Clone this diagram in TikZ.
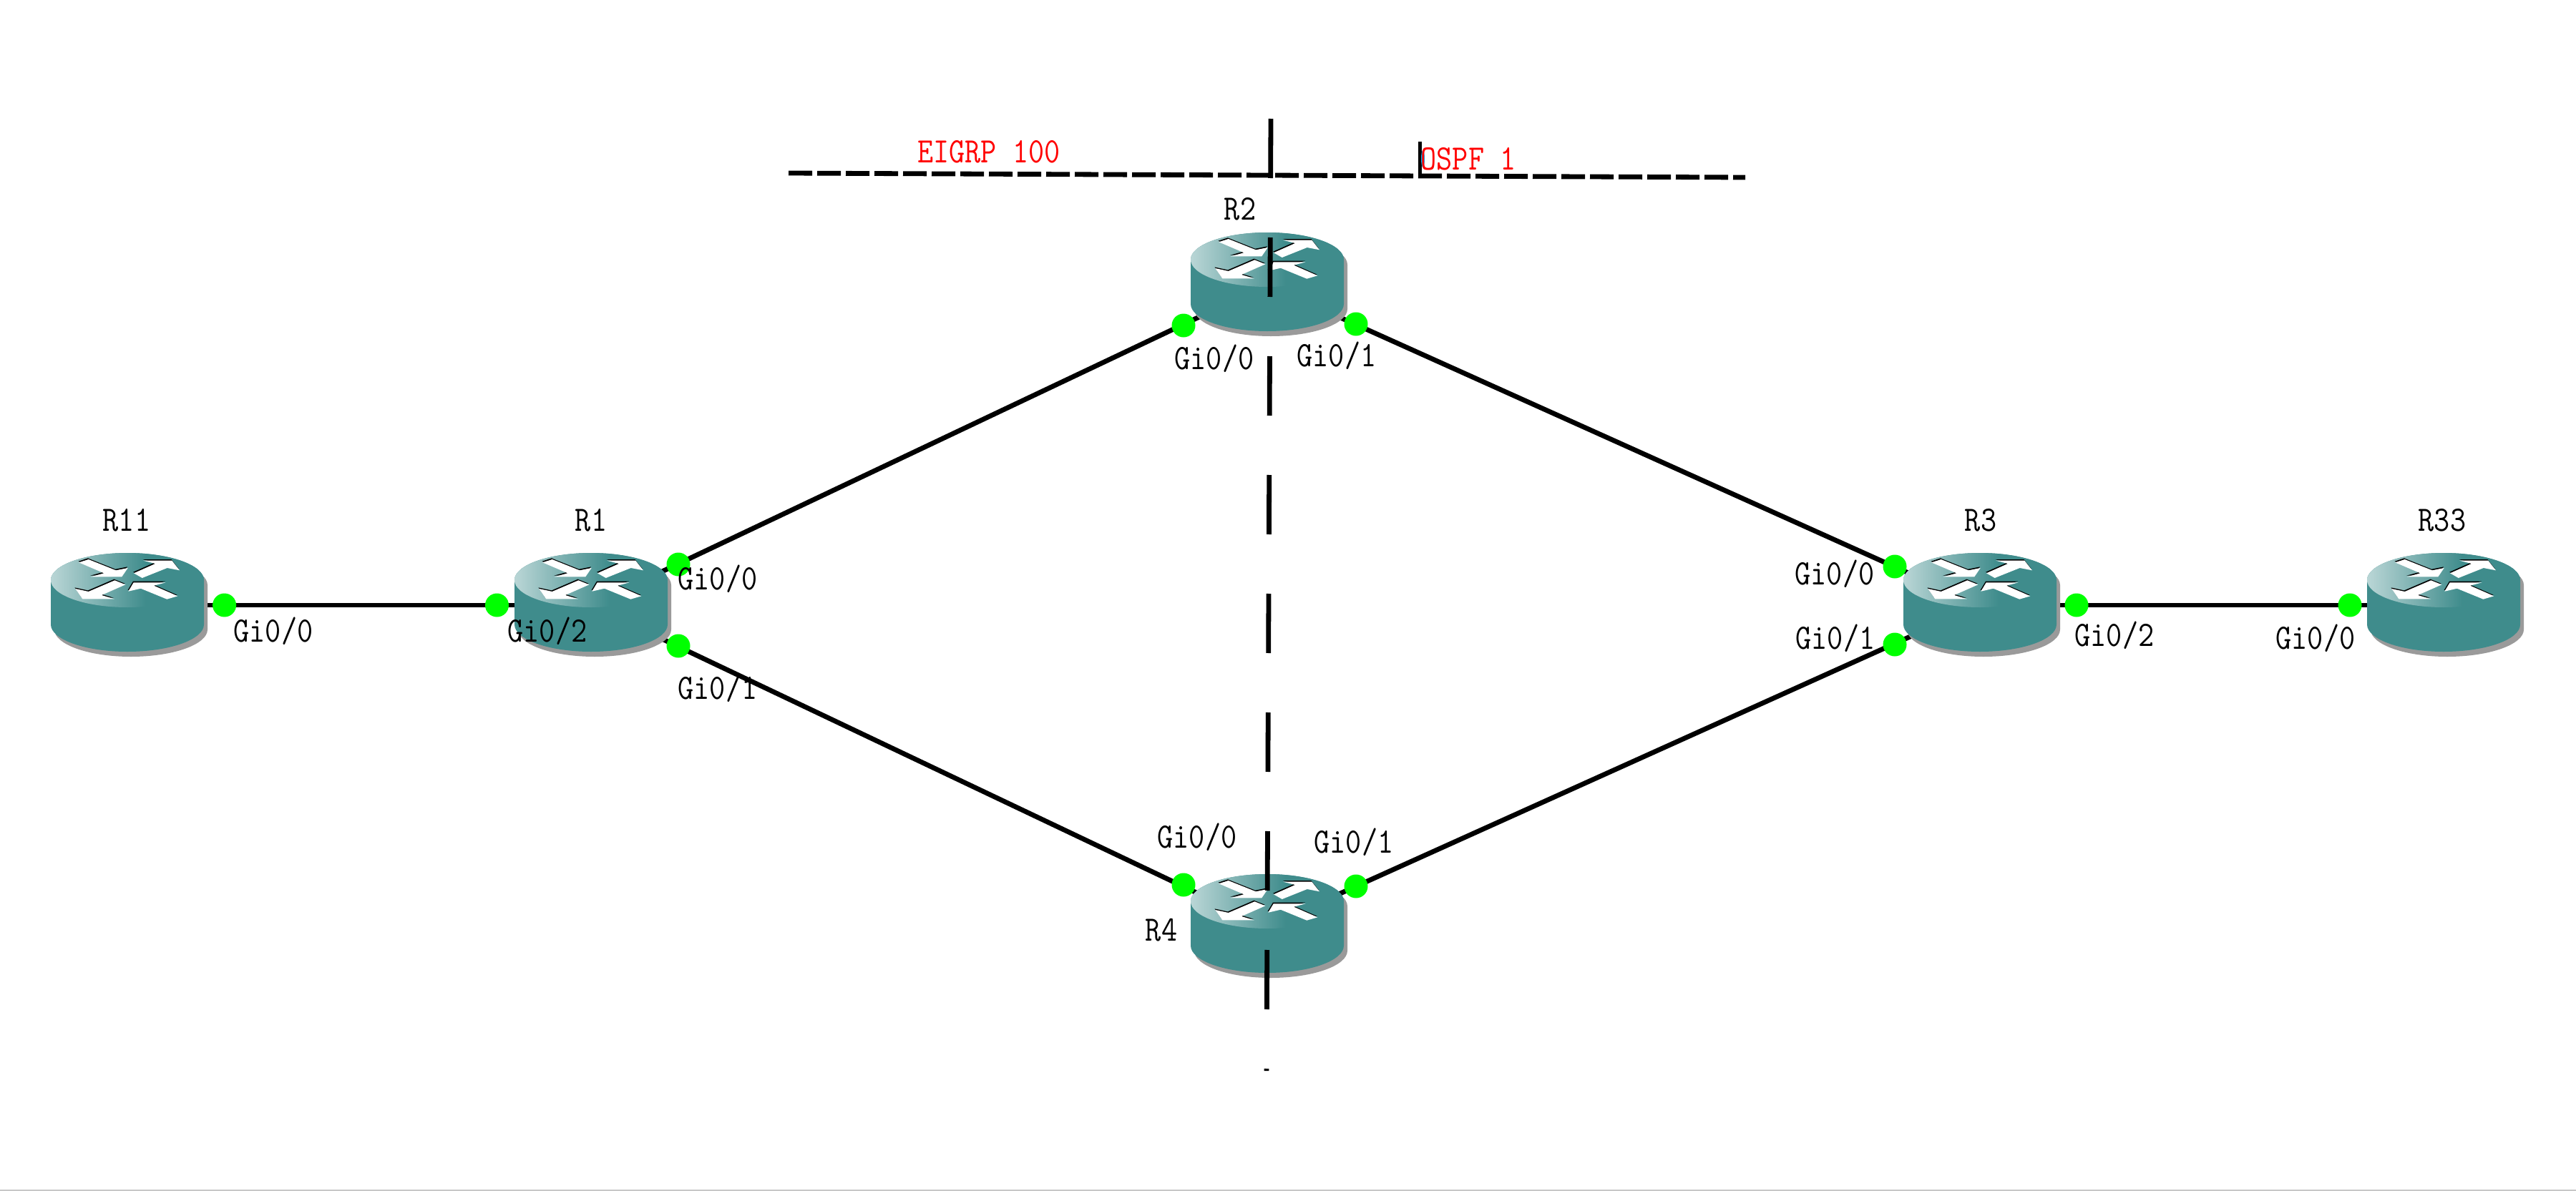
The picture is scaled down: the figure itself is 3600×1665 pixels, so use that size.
\documentclass[tikz,border=0pt]{standalone}
\usepackage{fontspec}
\usetikzlibrary{calc}
\setmonofont{Latin Modern Mono}
\definecolor{rteal}{HTML}{3F8C8C}
\definecolor{rlight}{HTML}{BAD6D6}
\definecolor{rshadow}{HTML}{9A9A9A}
\definecolor{portgreen}{HTML}{00FF00}
\pgfdeclarehorizontalshading{rtop}{100bp}{color(0bp)=(rlight); color(25bp)=(rlight); color(56bp)=(rteal); color(100bp)=(rteal)}
\newcommand{\tallstr}[1]{\scalebox{1}[1.16]{#1}}
\tikzset{
  x=0.5pt,y=-0.5pt,
  anchorbox/.style={inner sep=0pt,minimum width=107pt,minimum height=88pt},
  linkline/.style={line width=3.4pt,black},
  dashbar/.style={line width=3.4pt,black},
  port/.style={circle,fill=portgreen,inner sep=0pt,minimum size=16.5pt},
  lbl/.style={font=\ttfamily\fontsize{21.5}{21.5}\selectfont,inner sep=0pt,black,anchor=center},
  redlbl/.style={lbl,text=red},
  rarrow/.pic={
    \foreach \dx/\dy/\col in {-0.8/-1.6/black,0/0/white}{
      \fill[\col,shift={(\dx,\dy)}]
        (-67.7,-24.7)--(-54.3,-29)--(-16,-13.7)--(0.7,-17)--(-7.7,-4.7)--(-51,-4.7)--(-32.7,-9.7)--cycle
        (9,-9.7)--(39,-23)--(22.3,-27.3)--(62.3,-27.3)--(73,-13.7)--(55.7,-17)--(20.7,-3)--cycle
        (-72.7,12)--(-54.3,16)--(-17.7,0.3)--(-2.7,6.3)--(-36,21)--(-18.3,26.3)--(-62.7,26.3)--cycle
        (1.3,15.7)--(8.7,3.3)--(53.7,3.3)--(37,7.7)--(70.3,22.3)--(55.3,26.7)--(18.7,11.7)--cycle;
    }
  },
  routerpic/.pic={
    % origin is the centre of the top face; y grows downwards, so angle 90 is the bottom of an arc
    \fill[rshadow,shift={(5,7)}] (-107,0) -- (-107,62) arc[start angle=180,end angle=0,x radius=107,y radius=38] -- (107,0) arc[start angle=0,end angle=-180,x radius=107,y radius=38] -- cycle;
    \fill[rteal] (-107,0) -- (-107,62) arc[start angle=180,end angle=0,x radius=107,y radius=38] -- (107,0) arc[start angle=0,end angle=-180,x radius=107,y radius=38] -- cycle;
    \shade[shading=rtop] (0,0) ellipse[x radius=107,y radius=38];
    \pic {rarrow};
  }
}
\begin{document}
\begin{tikzpicture}
\useasboundingbox (0,0) rectangle (3600,1665);
\fill[white] (0,0) rectangle (3600,1665);
\draw[line width=1pt,black!22] (0,1664) -- (3600,1664);
% router anchors
\foreach \n/\x/\y in {R11/178/846,R1/826/846,R2/1771/398,R3/2767/846,R33/3415/846,R4/1771/1295}
  \node[anchorbox] (\n) at (\x,\y) {};
% links, centre to centre
\draw[linkline] (R11.center) -- (R1.center);
\draw[linkline] (R3.center) -- (R33.center);
\draw[linkline] (R1.center) -- (R2.center);
\draw[linkline] (R2.center) -- (R3.center);
\draw[linkline] (R1.center) -- (R4.center);
\draw[linkline] (R4.center) -- (R3.center);
% routers
\foreach \n in {R11,R1,R2,R3,R33,R4}
  \path ($(\n.center)+(0,-35)$) pic {routerpic};
% ports
\foreach \n/\x/\y in {pa/313.6/846,pb/694.5/846,pc/948/789,pd/948/903,pe/1654/455,pf/1895/453,pg/1654/1237,ph/1895/1239,pi/2648/792,pj/2648/901,pk/2902/846,pl/3284/846}
  \node[port] (\n) at (\x,\y) {};
% area boundaries
\coordinate (hs) at (1102,242);
\coordinate (he) at (2439,248);
\coordinate (vs) at (1776,166);
\coordinate (ve) at (1770,1497);
\coordinate (ms) at (1984,198);
\coordinate (me) at (1984,243);
\draw[dashbar,dash pattern=on 16.6pt off 3.4pt] (hs) -- (he);
\draw[dashbar,dash pattern=on 41.5pt off 41.5pt] (vs) -- (ve);
\draw[line width=2.5pt,black] (ms) -- (me);
\fill[cyan] (1988.5,222) ellipse[x radius=2.5,y radius=12];
% labels
\node[redlbl] (eigrp) at (1382,212) {\tallstr{EIGRP 100}};
\node[redlbl] (ospf) at (2052,222) {\tallstr{OSPF 1}};
\foreach \n/\t/\x/\y in {
  l1/R11/177/727,l2/R1/826/727,l3/R2/1733/292,l4/R3/2768/727,l5/R33/3413/727,l6/R4/1623/1300,
  g1/Gi0\slash 0/382/882,g2/Gi0\slash 2/765/882,g3/Gi0\slash 0/1003/809,g4/Gi0\slash 1/1003/962,
  g5/Gi0\slash 0/1697/501,g6/Gi0\slash 1/1868/497,g7/Gi0\slash 0/1673/1170,g8/Gi0\slash 1/1892/1177,
  g9/Gi0\slash 0/2564/802,g10/Gi0\slash 1/2565/892,g11/Gi0\slash 2/2955/888,g12/Gi0\slash 0/3236/892}
  \node[lbl] (\n) at (\x,\y) {\tallstr{\t}};
\end{tikzpicture}
\end{document}
